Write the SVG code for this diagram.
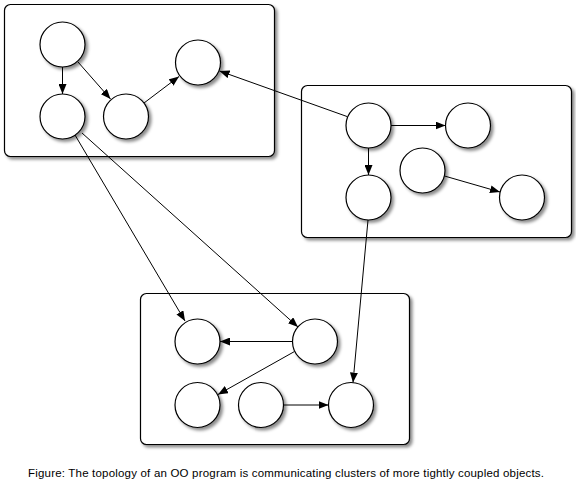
<svg xmlns="http://www.w3.org/2000/svg" width="576" height="486" viewBox="0 0 576 486">
<defs>
<filter id="sh" x="-20%" y="-20%" width="150%" height="150%">
<feDropShadow dx="2.5" dy="2.5" stdDeviation="1.6" flood-color="#000" flood-opacity="0.45"/>
</filter>
<marker id="ah" viewBox="0 0 10 8" refX="10" refY="4" markerWidth="10" markerHeight="8" markerUnits="userSpaceOnUse" orient="auto">
<path d="M0,0 L10,4 L0,8 Z" fill="#000"/>
</marker>
<style>
.box{fill:#fff;stroke:#000;stroke-width:1.2;filter:url(#sh)}
.obj{fill:#fff;stroke:#000;stroke-width:1.2;filter:url(#sh)}
.e{stroke:#000;stroke-width:1;fill:none;marker-end:url(#ah)}
.cap{font-family:"Liberation Sans",Arial,sans-serif;font-size:11.5px;fill:#000}
</style>
</defs>
<g id="cluster-top-left">
<rect class="box" x="4.5" y="4.5" width="270" height="152" rx="6"/>
</g>
<g id="cluster-right">
<rect class="box" x="301.5" y="85.5" width="270" height="152" rx="6"/>
</g>
<g id="cluster-bottom">
<rect class="box" x="140.5" y="293.5" width="269" height="151" rx="6"/>
</g>
<g id="objA"><circle class="obj" cx="62.5" cy="44.5" r="22.5"/></g>
<g id="objB"><circle class="obj" cx="62.5" cy="116.5" r="22.5"/></g>
<g id="objC"><circle class="obj" cx="126" cy="116.5" r="22.5"/></g>
<g id="objD"><circle class="obj" cx="198" cy="62.5" r="22.5"/></g>
<g id="objE"><circle class="obj" cx="368.5" cy="125.5" r="22.5"/></g>
<g id="objF"><circle class="obj" cx="468" cy="125.5" r="22.5"/></g>
<g id="objG"><circle class="obj" cx="368.5" cy="197.5" r="22.5"/></g>
<g id="objH"><circle class="obj" cx="422.5" cy="170.5" r="22.5"/></g>
<g id="objI"><circle class="obj" cx="522" cy="197.5" r="22.5"/></g>
<g id="objJ"><circle class="obj" cx="197.5" cy="341.5" r="22.5"/></g>
<g id="objK"><circle class="obj" cx="315" cy="341.5" r="22.5"/></g>
<g id="objL"><circle class="obj" cx="197.5" cy="405" r="22.5"/></g>
<g id="objM"><circle class="obj" cx="261" cy="405" r="22.5"/></g>
<g id="objN"><circle class="obj" cx="351" cy="405" r="22.5"/></g>
<g id="connectors">
<line class="e" x1="62.5" y1="67" x2="62.5" y2="94"/>
<line class="e" x1="78" y1="62" x2="110.5" y2="99"/>
<line class="e" x1="144" y1="103" x2="179" y2="76.5"/>
<line class="e" x1="347" y1="116.5" x2="219.5" y2="71"/>
<line class="e" x1="391" y1="125.5" x2="445.5" y2="125.5"/>
<line class="e" x1="368.5" y1="148" x2="368.5" y2="175"/>
<line class="e" x1="444.5" y1="176" x2="500" y2="192"/>
<line class="e" x1="75" y1="135" x2="185" y2="321"/>
<line class="e" x1="82" y1="133" x2="298" y2="327"/>
<line class="e" x1="368" y1="220" x2="353" y2="382.5"/>
<line class="e" x1="292.5" y1="341.5" x2="220" y2="341.5"/>
<line class="e" x1="294.5" y1="351.5" x2="218" y2="394.5"/>
<line class="e" x1="283.5" y1="405" x2="328.5" y2="405"/>
</g>
<text class="cap" x="286" y="477" text-anchor="middle" textLength="516" lengthAdjust="spacing">Figure: The topology of an OO program is communicating clusters of more tightly coupled objects.</text>
</svg>
